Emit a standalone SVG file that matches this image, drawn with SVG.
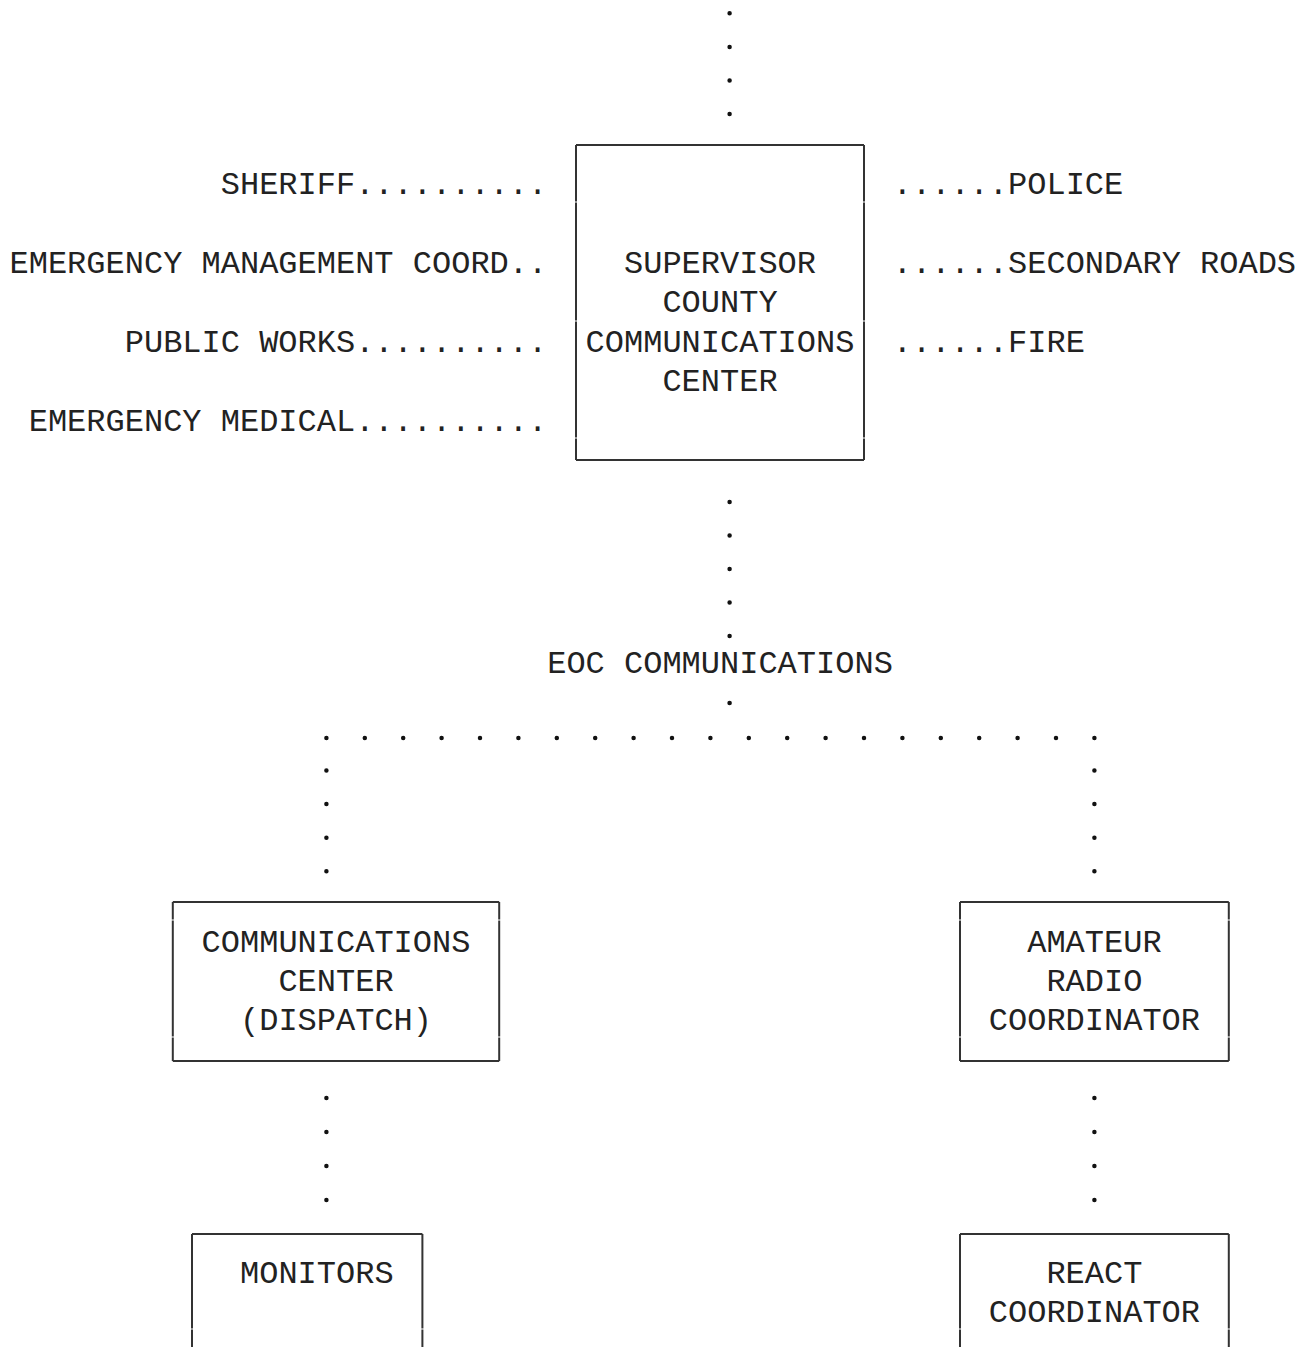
<svg xmlns="http://www.w3.org/2000/svg" width="1309" height="1347" viewBox="0 0 1309 1347">
<style>
  text { font-family: "Liberation Mono", "Courier New", monospace; font-size: 32px; fill: #222; }
  .m { text-anchor: middle; }
  .e { text-anchor: end; }
  .box { fill: none; stroke: #333; stroke-width: 2; }
  .dv { fill: none; stroke: #111; stroke-width: 4.5; stroke-linecap: round; }
</style>
<rect width="1309" height="1347" fill="#fff"/>
<g id="connectors">
  <path class="dv" d="M729.6 13.3 V114.8" stroke-dasharray="0 33.6"/>
  <path class="dv" d="M729.6 502 V636.5" stroke-dasharray="0 33.5"/>
  <circle cx="729.6" cy="703" r="2.3" fill="#111"/>
  <path class="dv" d="M326.4 738 H1095" stroke-dasharray="0 38.4"/>
  <path class="dv" d="M326.4 770.5 V872" stroke-dasharray="0 33.6"/>
  <path class="dv" d="M1094.4 770.5 V872" stroke-dasharray="0 33.6"/>
  <path class="dv" d="M326.4 1098 V1200.5" stroke-dasharray="0 34"/>
  <path class="dv" d="M1094.4 1098 V1200.5" stroke-dasharray="0 34"/>
</g>
<g id="n-supervisor">
  <path class="box" d="M576 145 H864 M576 460 H864 M576 145 V201.5 M576 202.5 V320.5 M576 321.5 V437.5 M576 438.5 V460 M864 145 V201.5 M864 202.5 V320.5 M864 321.5 V437.5 M864 438.5 V460"/>
  <text class="m" x="720" y="273">SUPERVISOR</text>
  <text class="m" x="720" y="312">COUNTY</text>
  <text class="m" x="720" y="352">COMMUNICATIONS</text>
  <text class="m" x="720" y="391">CENTER</text>
</g>
<g id="n-sheriff"><text class="e" x="547.2" y="194">SHERIFF..........</text></g>
<g id="n-emc"><text class="e" x="547.2" y="273">EMERGENCY MANAGEMENT COORD..</text></g>
<g id="n-publicworks"><text class="e" x="547.2" y="352">PUBLIC WORKS..........</text></g>
<g id="n-medical"><text class="e" x="547.2" y="431">EMERGENCY MEDICAL..........</text></g>
<g id="n-police"><text x="892.8" y="194">......POLICE</text></g>
<g id="n-roads"><text x="892.8" y="273">......SECONDARY ROADS</text></g>
<g id="n-fire"><text x="892.8" y="352">......FIRE</text></g>
<g id="n-eoc"><text class="m" x="720" y="673">EOC COMMUNICATIONS</text></g>
<g id="n-dispatch">
  <path class="box" d="M172.8 902 H499.2 M172.8 1061 H499.2 M172.8 902 V919.5 M172.8 920.5 V1036.5 M172.8 1037.5 V1061 M499.2 902 V919.5 M499.2 920.5 V1036.5 M499.2 1037.5 V1061"/>
  <text class="m" x="336" y="952">COMMUNICATIONS</text>
  <text class="m" x="336" y="991">CENTER</text>
  <text class="m" x="336" y="1030">(DISPATCH)</text>
</g>
<g id="n-amateur">
  <path class="box" d="M960 902 H1228.8 M960 1061 H1228.8 M960 902 V919.5 M960 920.5 V1036.5 M960 1037.5 V1061 M1228.8 902 V919.5 M1228.8 920.5 V1036.5 M1228.8 1037.5 V1061"/>
  <text class="m" x="1094.4" y="952">AMATEUR</text>
  <text class="m" x="1094.4" y="991">RADIO</text>
  <text class="m" x="1094.4" y="1030">COORDINATOR</text>
</g>
<g id="n-monitors">
  <path class="box" d="M192 1234 H422.4 M192 1234 V1328.5 M192 1329.5 V1347 M422.4 1234 V1328.5 M422.4 1329.5 V1347"/>
  <text x="240" y="1283">MONITORS</text>
</g>
<g id="n-react">
  <path class="box" d="M960 1234 H1228.8 M960 1234 V1328.5 M960 1329.5 V1347 M1228.8 1234 V1328.5 M1228.8 1329.5 V1347"/>
  <text class="m" x="1094.4" y="1283">REACT</text>
  <text class="m" x="1094.4" y="1322">COORDINATOR</text>
</g>
</svg>
